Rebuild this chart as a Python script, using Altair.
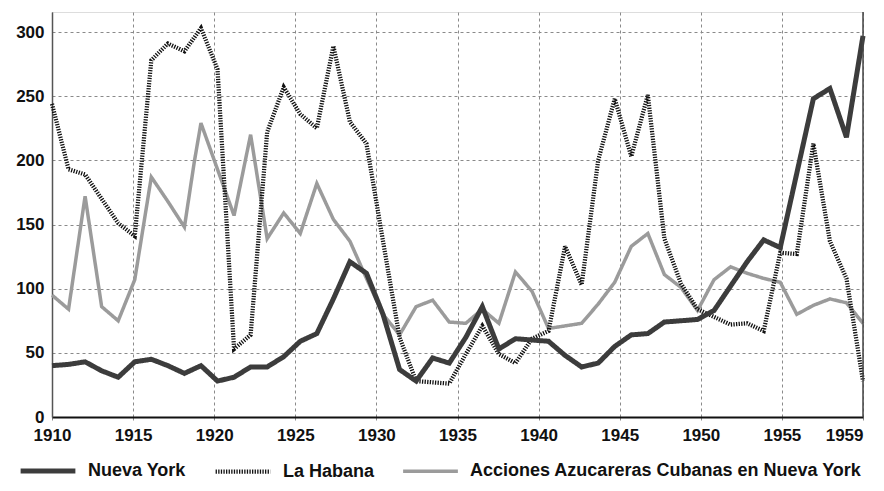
import json
import altair as alt
import pandas as pd

# ---------------- data ----------------
series_names = ["Nueva York", "La Habana", "Acciones Azucareras Cubanas en Nueva York"]

years = list(range(1910, 1960))

nueva_york = [40, 41, 43, 36, 31, 43, 45, 40, 34, 40,
              28, 31, 39, 39, 47, 59, 65, 92, 121, 112,
              80, 37, 28, 46, 42, 62, 86, 53, 61, 60,
              59, 48, 39, 42, 55, 64, 65, 74, 75, 76,
              83, 102, 121, 138, 132, 190, 248, 256, 218, 297]

la_habana = [244, 193, 189, 170, 151, 141, 278, 291, 285, 303,
             271, 53, 64, 222, 257, 236, 225, 289, 230, 213,
             137, 62, 28, 27, 26, 49, 71, 49, 42, 61,
             67, 133, 103, 200, 248, 203, 251, 139, 104, 84,
             78, 72, 73, 67, 128, 127, 213, 137, 108, 28]

acciones_years = [1910, 1911, 1912, 1913, 1914, 1915, 1916, 1917, 1918, 1918.6,
                  1919, 1920, 1921, 1922, 1923, 1924, 1925, 1926, 1927, 1928,
                  1929, 1930, 1931, 1932, 1933, 1934, 1935, 1936, 1937, 1938,
                  1939, 1940, 1941, 1942, 1943, 1944, 1945, 1946, 1947, 1948,
                  1949, 1950, 1951, 1952, 1953, 1954, 1955, 1956, 1957, 1958,
                  1959]
acciones = [95, 84, 172, 86, 75, 107, 187, 168, 148, 199,
            229, 193, 157, 220, 139, 159, 143, 182, 154, 137,
            108, 80, 64, 86, 91, 74, 73, 84, 73, 113,
            98, 69, 71, 73, 88, 105, 133, 143, 111, 101,
            83, 107, 117, 112, 108, 105, 80, 87, 92, 89,
            73]

x_tick_labels = ["1910", "1915", "1920", "1925", "1930", "1935",
                 "1940", "1945", "1950", "1955", "1959"]
y_ticks = [0, 50, 100, 150, 200, 250, 300]

# ---------------- table ----------------
rows = []
for yr, v in zip(acciones_years, acciones):
    rows.append({"year": yr, "value": v, "serie": series_names[2], "k": 0})
for yr, v in zip(years, la_habana):
    rows.append({"year": yr, "value": v, "serie": series_names[1], "k": 1})
for yr, v in zip(years, nueva_york):
    rows.append({"year": yr, "value": v, "serie": series_names[0], "k": 2})
df = pd.DataFrame(rows)

# axis divided into 10 equal parts over the data span (as in the original)
step = (1959 - 1910) / 10
tick_pos = [1910 + step * k for k in range(11)]
label_expr = json.dumps(x_tick_labels).replace('"', "'") + \
    f"[round((datum.value - 1910) / {step})]"

FONT = "Liberation Sans"
TXT = "#111111"

colors = ["#3c3c3c", "#111111", "#9b9b9b"]
dashes = [[1, 0], [1.3, 1.3], [1, 0]]
widths = [5, 3.5, 4]

legend = alt.Legend(
    title=None, orient="none", legendX=-34, legendY=429,
    direction="horizontal", symbolType="stroke", symbolSize=3000,
    labelFont=FONT, labelFontSize=18, labelFontWeight="bold", labelColor=TXT,
    labelOffset=10, columnPadding=21, padding=0, labelLimit=700,
)

x_enc = alt.X(
    "year:Q",
    scale=alt.Scale(domain=[1910, 1959], nice=False, zero=False),
    axis=alt.Axis(
        title=None, values=tick_pos, labelExpr=label_expr,
        grid=True, gridDash=[3, 3], gridColor="#8a8a8a", gridWidth=1,
        domainColor="#111111", domainWidth=1.8,
        ticks=True, tickSize=5, tickColor="#8a8a8a", tickDash=[3, 3],
        labelFont=FONT, labelFontSize=17, labelFontWeight="bold",
        labelColor=TXT, labelPadding=5, labelFlush=False,
        labelAlign=alt.expr("datum.value >= 1959 ? 'right' : 'center'"),
    ),
)
y_enc = alt.Y(
    "value:Q",
    scale=alt.Scale(domain=[0, 315.6], nice=False),
    axis=alt.Axis(
        title=None, values=y_ticks, format="d",
        grid=True, gridDash=[3, 3], gridColor="#8a8a8a", gridWidth=1,
        domainColor="#555555", domainWidth=1.5,
        ticks=False, labelFont=FONT, labelFontSize=17, labelFontWeight="bold",
        labelColor=TXT, labelPadding=8,
    ),
)

lines = alt.Chart(df).mark_line(strokeJoin="miter", strokeMiterLimit=3).encode(
    x=x_enc,
    y=y_enc,
    color=alt.Color("serie:N", scale=alt.Scale(domain=series_names, range=colors), legend=legend),
    strokeDash=alt.StrokeDash("serie:N", scale=alt.Scale(domain=series_names, range=dashes), legend=legend),
    strokeWidth=alt.StrokeWidth("serie:N", scale=alt.Scale(domain=series_names, range=widths), legend=legend),
    order=alt.Order("year:Q"),
    detail="k:N",
)

right_border = alt.Chart(pd.DataFrame({"x": [1959]})).mark_rule(
    color="#444444", strokeWidth=1.5
).encode(x=alt.X("x:Q"))

chart = alt.layer(lines, right_border).properties(
    width=811, height=405,
    autosize=alt.AutoSizeParams(type="none"),
    padding={"left": 44, "top": 4, "right": 13, "bottom": 66},
).configure_view(stroke=None).configure(background="white")

chart.save("out.html", embed_options={"renderer": "svg", "actions": False})
